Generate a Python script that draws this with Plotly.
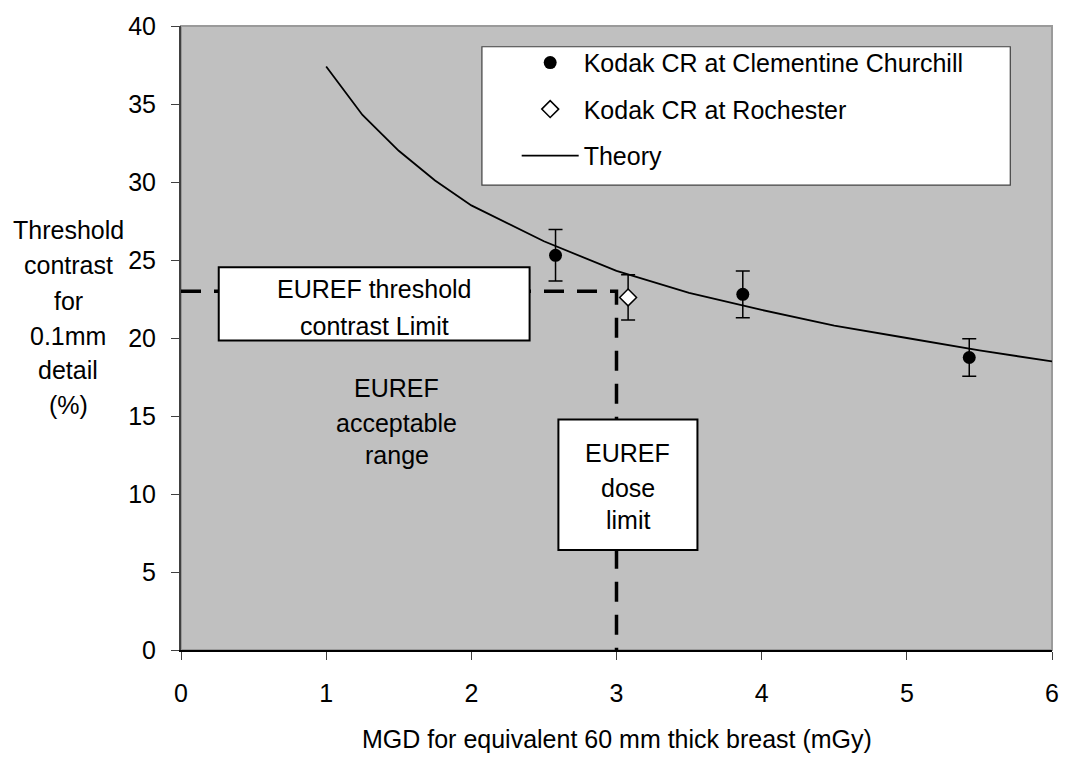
import plotly.graph_objects as go

# ---------------- data ----------------
cc_dose = [2.58, 3.87, 5.43]
cc_contrast = [25.3, 22.8, 18.75]
cc_err = [1.65, 1.5, 1.2]

roch_dose = [3.08]
roch_contrast = [22.6]
roch_err = [1.45]

theory_dose = [1.0, 1.25, 1.5, 1.75, 2.0, 2.5, 3.0, 3.5, 4.0, 4.5, 5.0, 5.5, 6.0]
theory_contrast = [37.4, 34.3, 32.0, 30.1, 28.5, 26.2, 24.3, 22.9, 21.8, 20.8, 20.0, 19.2, 18.5]

euref_dose_limit = 3.0
euref_contrast_limit = 23.0

x_ticks = [0, 1, 2, 3, 4, 5, 6]
y_ticks = [0, 5, 10, 15, 20, 25, 30, 35, 40]

y_title_lines = ["Threshold", "contrast", "for", "0.1mm", "detail", "(%)"]
x_title = "MGD for equivalent 60 mm thick breast (mGy)"
contrast_box_lines = ["EUREF threshold", "contrast Limit"]
dose_box_lines = ["EUREF", "dose", "limit"]
range_lines = ["EUREF", "acceptable", "range"]

FONT = "Arial, Liberation Sans, sans-serif"
FS = 25

# ---------------- layout geometry (pixels) ----------------
W, H = 1071, 757
L, R, T, B = 181, 13, 19, 107
PW = W - L - R
PH = H - T - B


def px(xp):
    return (xp - L) / PW


def py(yp):
    return (H - B - yp) / PH


fig = go.Figure()

# EUREF limit lines
fig.add_trace(go.Scatter(
    x=[0, euref_dose_limit, euref_dose_limit],
    y=[euref_contrast_limit, euref_contrast_limit, 0],
    mode="lines", line=dict(color="black", width=3.5, dash="20px,13px"),
    showlegend=False, hoverinfo="skip", cliponaxis=False))

fig.add_trace(go.Scatter(
    x=cc_dose, y=cc_contrast, mode="markers", name="Kodak CR at Clementine Churchill",
    marker=dict(symbol="circle", size=13, color="black"),
    error_y=dict(type="data", array=cc_err, visible=True, color="black", thickness=1.5, width=7),
    legendgroup="a"))

fig.add_trace(go.Scatter(
    x=roch_dose, y=roch_contrast, mode="markers", name="Kodak CR at Rochester",
    marker=dict(symbol="diamond", size=13, color="white", line=dict(color="black", width=1.5)),
    error_y=dict(type="data", array=roch_err, visible=True, color="black", thickness=1.5, width=7),
    legendgroup="b"))

fig.add_trace(go.Scatter(
    x=theory_dose, y=theory_contrast, mode="lines", name="Theory",
    line=dict(color="black", width=1.8), legendgroup="c"))

shapes = [
    # plot area border
    dict(type="rect", xref="paper", yref="paper", x0=0, x1=1, y0=0, y1=1,
         line=dict(color="#9a9a9a", width=2), layer="below"),
    # legend box
    dict(type="rect", xref="paper", yref="paper", x0=px(484), x1=px(1016), y0=py(180), y1=py(40),
         line=dict(color="#404040", width=1.2), fillcolor="white", layer="above"),
    # threshold contrast box
    dict(type="rect", xref="paper", yref="paper", x0=px(219), x1=px(532), y0=py(337), y1=py(263),
         line=dict(color="black", width=2), fillcolor="white", layer="above"),
    # dose limit box
    dict(type="rect", xref="paper", yref="paper", x0=px(561), x1=px(701), y0=py(549), y1=py(417),
         line=dict(color="black", width=2), fillcolor="white", layer="above"),
]

annotations = []
for txt, yp in zip(y_title_lines, [225, 261, 297, 332, 367, 402]):
    annotations.append(dict(text=txt, xref="paper", yref="paper", x=px(67.5), y=py(yp),
                            xanchor="center", yanchor="middle", showarrow=False,
                            font=dict(family=FONT, size=FS, color="black")))
annotations.append(dict(text=x_title, xref="paper", yref="paper", x=px(620), y=py(740),
                        xanchor="center", yanchor="middle", showarrow=False,
                        font=dict(family=FONT, size=FS, color="black")))
for txt, yp in zip(contrast_box_lines, [285, 322]):
    annotations.append(dict(text=txt, xref="paper", yref="paper", x=px(376), y=py(yp),
                            xanchor="center", yanchor="middle", showarrow=False,
                            font=dict(family=FONT, size=FS, color="black")))
for txt, yp in zip(dose_box_lines, [451, 486, 519]):
    annotations.append(dict(text=txt, xref="paper", yref="paper", x=px(631), y=py(yp),
                            xanchor="center", yanchor="middle", showarrow=False,
                            font=dict(family=FONT, size=FS, color="black")))
for txt, yp in zip(range_lines, [385, 420, 453]):
    annotations.append(dict(text=txt, xref="paper", yref="paper", x=px(398), y=py(yp),
                            xanchor="center", yanchor="middle", showarrow=False,
                            font=dict(family=FONT, size=FS, color="black")))

fig.update_layout(
    width=W, height=H,
    margin=dict(l=L, r=R, t=T, b=B, pad=0),
    paper_bgcolor="white", plot_bgcolor="#C0C0C0",
    font=dict(family=FONT, size=FS, color="black"),
    shapes=shapes, annotations=annotations,
    showlegend=True,
    legend=dict(x=px(519), y=py(33), xanchor="left", yanchor="top",
                bgcolor="rgba(0,0,0,0)", borderwidth=0,
                traceorder="grouped", tracegroupgap=11, itemwidth=57,
                font=dict(family=FONT, size=FS, color="black")),
    xaxis=dict(range=[0, 6], tickvals=x_ticks, showgrid=False, zeroline=False,
               showline=True, linecolor="black", linewidth=2,
               ticks="outside", ticklen=8, tickcolor="#404040", tickwidth=1.2,
               ticklabelstandoff=12, tickfont=dict(family=FONT, size=FS, color="black")),
    yaxis=dict(range=[0, 40], tickvals=y_ticks, showgrid=False, zeroline=False,
               showline=True, linecolor="#404040", linewidth=2,
               ticks="outside", ticklen=8, tickcolor="#404040", tickwidth=1.2,
               ticklabelstandoff=10, tickfont=dict(family=FONT, size=FS, color="black")),
)

fig.write_html("out.html")
